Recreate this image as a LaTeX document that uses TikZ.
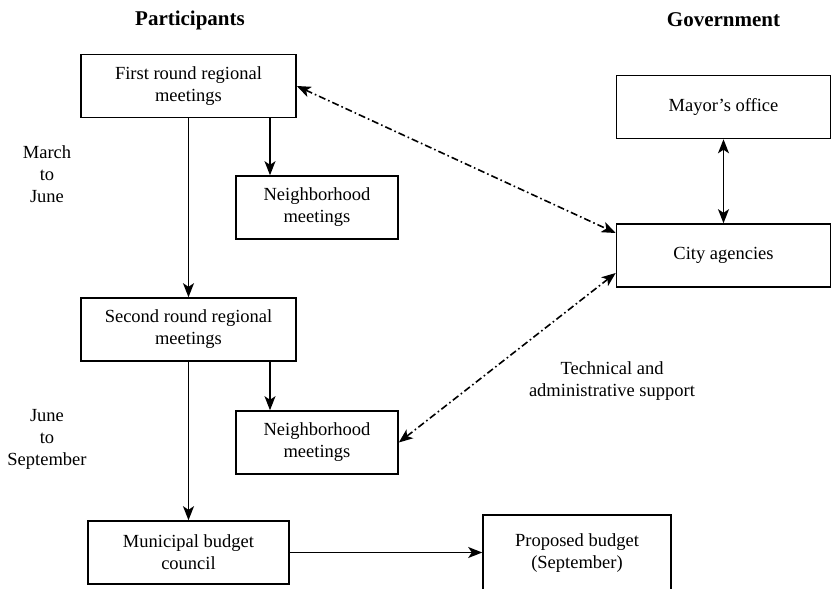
\documentclass[tikz,border=0pt]{standalone}
\usepackage{fontspec}
\setmainfont{Liberation Serif}
\usetikzlibrary{arrows.meta,calc}

\begin{document}
\begin{tikzpicture}[x=0.5pt, y=-0.5pt, line width=0.8pt, >={Stealth[length=7pt,width=5.5pt,inset=1.8pt]},
	font=\fontsize{9.25}{11}\selectfont,
	box/.style={draw, rectangle, align=center, inner sep=0pt, minimum height=31.5pt},
	head/.style={font=\fontsize{10.5}{12}\selectfont\bfseries},
	note/.style={align=center},
	dashdot/.style={dash pattern=on 3.5pt off 1.5pt on 0.8pt off 1.5pt}]
		\useasboundingbox (0,0) rectangle (831,589);
		\node[head] (p) at (190,20) {Participants};
		\node[head] (g) at (723.5,20) {Government};
		\node[box, minimum width=107.5pt] (1) at (188.5,86) {First round regional\\meetings};
		\node[box, minimum width=81pt] (2) at (317,207.5) {Neighborhood\\meetings};
		\node[box, minimum width=107.5pt] (3) at (188.5,329.5) {Second round regional\\meetings};
		\node[box, minimum width=81pt] (4) at (317,442.5) {Neighborhood\\meetings};
		\node[box, minimum width=100.5pt] (5) at (188.5,552.5) {Municipal budget\\council};
		\node[box, minimum width=94pt, minimum height=38.5pt] (6) at (577,553.5) {Proposed budget\\(September)};
		\node[box, minimum width=107pt] (7) at (723.5,107) {Mayor's office};
		\node[box, minimum width=107pt] (8) at (723.5,255.5) {City agencies};
		\node[note] (m) at (47,174) {March\\to\\June};
		\node[note] (j) at (47,439) {June\\to\\September};
		\node[note] (t) at (612,381) {Technical and\\administrative support};
		\draw[->] (1) -- (3);
		\draw[->] (3) -- (5);
		\draw[->] ([xshift=40.75pt]1.south) -- ([xshift=40.75pt]1.south |- 2.north);
		\draw[->] ([xshift=40.75pt]3.south) -- ([xshift=40.75pt]3.south |- 4.north);
		\draw[->] (5.east) -- (5.east -| 6.west);
		\draw[<->] (7) -- (8);
		\draw[<->, dashdot] (1.east) -- ([yshift=11.25pt]8.west);
		\draw[<->, dashdot] ([yshift=-8.75pt]8.west) -- (4.east);
	\end{tikzpicture}
\end{document}
